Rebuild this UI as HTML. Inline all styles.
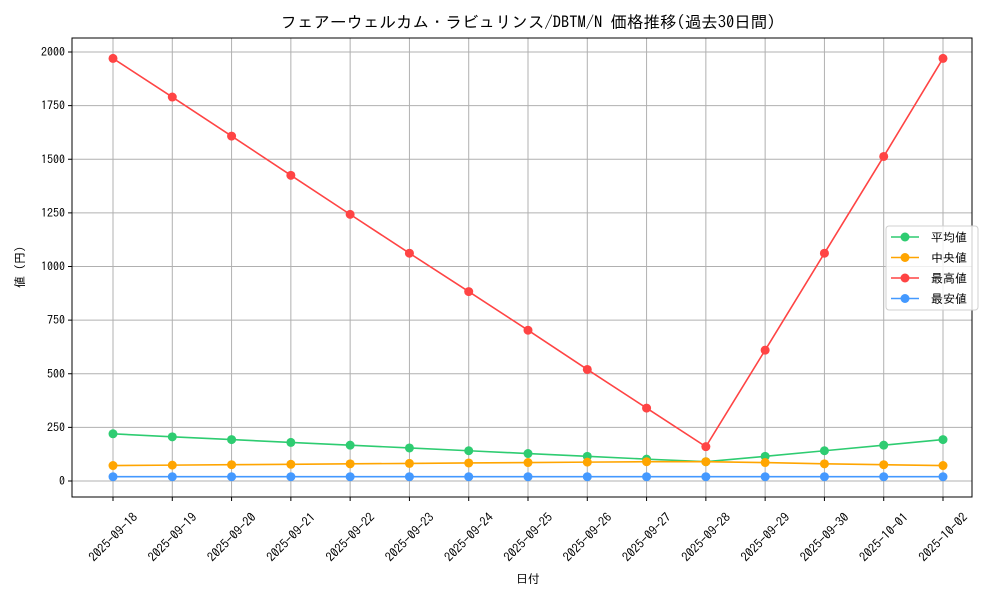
<!DOCTYPE html>
<html><head><meta charset="utf-8">
<style>
body{margin:0;background:#fff;}
svg text{font-family:"IPAGothic","Noto Sans CJK JP",sans-serif;fill:#000;}
</style></head><body>
<svg id="c" width="1000" height="600" xmlns="http://www.w3.org/2000/svg"></svg>
<script>
const s=document.getElementById('c');
let h='';
const L=72,R=972,T=38,B=497;
const x0=113,dx=(943-113)/14;
const y=v=>481-v*(429/2000);
const X=i=>x0+i*dx;
h+=`<rect x="${L}" y="${T}" width="${R-L}" height="${B-T}" fill="#fff"/>`;
const dates=[];for(let i=18;i<=30;i++)dates.push('2025-09-'+i);dates.push('2025-10-01','2025-10-02');
for(let i=0;i<15;i++){h+=`<line x1="${X(i)}" y1="${T}" x2="${X(i)}" y2="${B}" stroke="#b0b0b0" stroke-width="1"/>`;
h+=`<line x1="${X(i)}" y1="${B}" x2="${X(i)}" y2="${B+4}" stroke="#000"/>`;
h+=`<text transform="translate(${X(i)},${537}) rotate(-45)" text-anchor="middle" dominant-baseline="central" font-size="12.5">${dates[i]}</text>`;}
for(let v=0;v<=2000;v+=250){h+=`<line x1="${L}" y1="${y(v)}" x2="${R}" y2="${y(v)}" stroke="#b0b0b0" stroke-width="1"/>`;
h+=`<line x1="${L-4}" y1="${y(v)}" x2="${L}" y2="${y(v)}" stroke="#000"/>`;
h+=`<text x="${L-7}" y="${y(v)+4}" text-anchor="end" font-size="12">${v}</text>`;}
h+=`<rect x="${L}" y="${T}" width="${R-L}" height="${B-T}" fill="none" stroke="#000" stroke-width="1"/>`;
const series=[
['#ff4444',[1970,1790,1608,1425,1243,1062,883,703,520,340,160,610,1062,1513,1970]],
['#2ecc71',[220,206,193,180,167,154,141,128,115,102,90,115,141,167,193]],
['#ffa500',[72,74,76,78,80,82,84,86,88,90,90,86,80,76,72]],
['#4499ff',[20,20,20,20,20,20,20,20,20,20,20,20,20,20,20]]];
for(const [c,d] of series){h+=`<polyline fill="none" stroke="${c}" stroke-width="1.6" points="${d.map((v,i)=>X(i)+','+y(v)).join(' ')}"/>`;
d.forEach((v,i)=>h+=`<circle cx="${X(i)}" cy="${y(v)}" r="4.5" fill="${c}"/>`);}
h+=`<text x="528" y="28" text-anchor="middle" font-size="16.5">フェアーウェルカム・ラビュリンス/DBTM/N 価格推移(過去30日間)</text>`;
h+=`<text x="528" y="583" text-anchor="middle" font-size="12">日付</text>`;
h+=`<text transform="translate(24,267) rotate(-90)" text-anchor="middle" font-size="12">値 (円)</text>`;
h+=`<rect x="886" y="226" width="92" height="84" rx="3" fill="#fff" fill-opacity="0.8" stroke="#d0d0d0"/>`;
const lg=[['#2ecc71','平均値'],['#ffa500','中央値'],['#ff4444','最高値'],['#4499ff','最安値']];
lg.forEach(([c,t],i)=>{const yy=237+i*20.5;h+=`<line x1="891" y1="${yy}" x2="919" y2="${yy}" stroke="${c}" stroke-width="1.6"/><circle cx="905" cy="${yy}" r="4.5" fill="${c}"/><text x="931" y="${yy+4.5}" font-size="12">${t}</text>`;});
s.innerHTML=h;
</script>
</body></html>
